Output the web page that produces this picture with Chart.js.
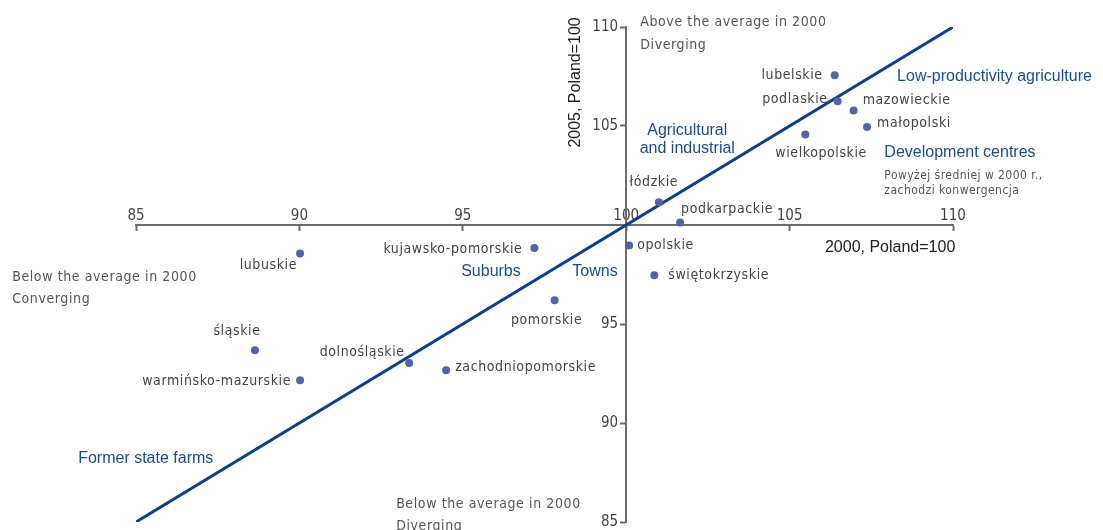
<!DOCTYPE html>
<html>
<head>
<meta charset="utf-8">
<script src="https://cdn.jsdelivr.net/npm/chart.js@4/dist/chart.umd.min.js"></script>
<style>
  html, body { margin: 0; padding: 0; background: #fff; }
  #wrap { width: 1103px; height: 530px; }
</style>
</head>
<body>
<div id="wrap"><canvas id="grafico" width="1103" height="530"></canvas></div>
<script>
// voivodeships: GDP per capita, Poland = 100
var regioes = [
  'lubelskie', 'podlaskie', 'mazowieckie', 'małopolski', 'wielkopolskie',
  'łódzkie', 'podkarpackie', 'opolskie', 'świętokrzyskie', 'kujawsko-pomorskie',
  'pomorskie', 'lubuskie', 'śląskie', 'warmińsko-mazurskie', 'dolnośląskie',
  'zachodniopomorskie'
]
var valores2000 = [106.38, 106.47, 106.96, 107.37, 105.48, 101.0, 101.65, 100.09, 100.86, 97.19, 97.81, 90.02, 88.64, 90.02, 93.36, 94.49]
var valores2005 = [107.56, 106.25, 105.78, 104.95, 104.57, 101.15, 100.12, 98.97, 97.46, 98.84, 96.2, 98.56, 93.67, 92.16, 93.03, 92.66]
var linhaX = [85, 110]
var linhaY = [85, 110]
var ticksX = [85, 90, 95, 100, 105, 110]
var ticksY = [85, 90, 95, 105, 110]

// label offsets from each point (px) and alignment
var posrotulos = {
  'lubelskie': [-12, 0, 'right'],
  'podlaskie': [-10, -2, 'right'],
  'mazowieckie': [9, -10, 'left'],
  'małopolski': [10, -4, 'left'],
  'wielkopolskie': [-30, 19, 'left'],
  'łódzkie': [-5, -20, 'center'],
  'podkarpackie': [1, -13, 'left'],
  'opolskie': [8, 0, 'left'],
  'świętokrzyskie': [14, 0, 'left'],
  'kujawsko-pomorskie': [-12, 1, 'right'],
  'pomorskie': [-8, 20, 'center'],
  'lubuskie': [-3, 12, 'right'],
  'śląskie': [-18, -19, 'center'],
  'warmińsko-mazurskie': [-9, 1, 'right'],
  'dolnośląskie': [-47, -11, 'center'],
  'zachodniopomorskie': [9, -3, 'left']
}

var fonteFina = "'Liberation Sans Narrow', 'DejaVu Sans Condensed', 'Roboto', sans-serif"
var fonteAzul = "'Liberation Sans', Arial, sans-serif"

var textos = [
  // [lines, x, y, align, color, font, lineheight, spacing]
  [['Above the average in 2000', 'Diverging'], 100.43, 110.24, 'left', '#555', '14px ' + fonteFina, 23, '0.6px'],
  [['Below the average in 2000', 'Converging'], 81.21, 97.36, 'left', '#555', '14px ' + fonteFina, 22, '0.6px'],
  [['Below the average in 2000', 'Diverging'], 92.96, 85.9, 'left', '#555', '14px ' + fonteFina, 22, '0.6px'],
  [['Powyżej średniej w 2000 r.,', 'zachodzi konwergencja'], 107.9, 102.46, 'left', '#555', '12px ' + fonteFina, 15, '0.45px'],
  [['Low-productivity agriculture'], 108.29, 107.51, 'left', '#1b4a92', '16px ' + fonteAzul, 18, '0px'],
  [['Agricultural', 'and industrial'], 101.87, 104.78, 'center', '#1b4a92', '16px ' + fonteAzul, 18, '0px'],
  [['Development centres'], 107.9, 103.67, 'left', '#1b4a92', '16px ' + fonteAzul, 18, '0px'],
  [['Suburbs'], 94.95, 97.66, 'left', '#1b4a92', '16px ' + fonteAzul, 18, '0px'],
  [['Towns'], 98.35, 97.66, 'left', '#1b4a92', '16px ' + fonteAzul, 18, '0px'],
  [['Former state farms'], 83.23, 88.22, 'left', '#1b4a92', '16px ' + fonteAzul, 18, '0px'],
  [['2000, Poland=100'], 110.07, 98.87, 'right', '#222', '16px ' + fonteAzul, 18, '0px']
]

var plugintextos = {
  id: 'textos',
  afterDatasetsDraw: function(chart) {
    var ctx = chart.ctx
    var sx = chart.scales.x
    var sy = chart.scales.y
    ctx.save()
    ctx.textBaseline = 'middle'

    // point labels
    var meta = chart.getDatasetMeta(1)
    ctx.font = '14px ' + fonteFina
    ctx.letterSpacing = '0.6px'
    ctx.fillStyle = '#444'
    meta.data.forEach(function(pt, i) {
      var p = posrotulos[regioes[i]]
      ctx.textAlign = p[2]
      ctx.fillText(regioes[i], pt.x + p[0], pt.y + p[1])
    })

    textos.forEach(function(t) {
      ctx.font = t[5]
      ctx.fillStyle = t[4]
      ctx.textAlign = t[3]
      ctx.letterSpacing = t[7]
      var x = sx.getPixelForValue(t[1])
      var y = sy.getPixelForValue(t[2])
      t[0].forEach(function(linha, k) {
        ctx.fillText(linha, x, y + k * t[6])
      })
    })

    // y axis title
    ctx.letterSpacing = '0px'
    ctx.font = '16px ' + fonteAzul
    ctx.fillStyle = '#222'
    ctx.textAlign = 'center'
    ctx.translate(sx.getPixelForValue(98.46), sy.getPixelForValue(107.2))
    ctx.rotate(-Math.PI / 2)
    ctx.fillText('2005, Poland=100', 0, 0)
    ctx.restore()
  }
}

var ctx = document.getElementById('grafico').getContext('2d')
var grafico = new Chart(ctx, {
  type: 'scatter',
  data: {
    datasets: [
      {
        type: 'line',
        data: linhaX.map((v, i) => ({ x: v, y: linhaY[i] })),
        borderColor: '#0d3f8c',
        borderWidth: 3,
        pointRadius: 0,
        order: 2
      },
      {
        data: valores2000.map((v, i) => ({ x: v, y: valores2005[i] })),
        backgroundColor: '#5263a6',
        borderWidth: 0,
        pointRadius: 4,
        order: 1
      }
    ]
  },
  options: {
    responsive: false,
    animation: false,
    layout: {
      padding: { left: 136, right: 150, top: 27, bottom: 8 }
    },
    plugins: {
      legend: { display: false },
      tooltip: { enabled: false }
    },
    scales: {
      x: {
        type: 'linear',
        min: 85,
        max: 110,
        position: { y: 100 },
        afterBuildTicks: function(s) { s.ticks = ticksX.map(v => ({ value: v })) },
        ticks: {
          color: '#444',
          padding: -23,
          font: { family: fonteFina, size: 15 }
        },
        grid: { drawOnChartArea: false, tickLength: 5, tickWidth: 2, tickColor: '#6b6b6b' },
        border: { color: '#6b6b6b', width: 2 }
      },
      y: {
        type: 'linear',
        min: 85,
        max: 110,
        position: { x: 100 },
        afterBuildTicks: function(s) { s.ticks = ticksY.map(v => ({ value: v })) },
        ticks: {
          color: '#444',
          font: { family: fonteFina, size: 15, lineHeight: 0.5 },
          callback: function(v) { return v + '\u2002\u200a' }
        },
        grid: { drawOnChartArea: false, tickLength: 5, tickWidth: 2, tickColor: '#6b6b6b' },
        border: { color: '#6b6b6b', width: 2 }
      }
    }
  },
  plugins: [plugintextos]
})
</script>
</body>
</html>
